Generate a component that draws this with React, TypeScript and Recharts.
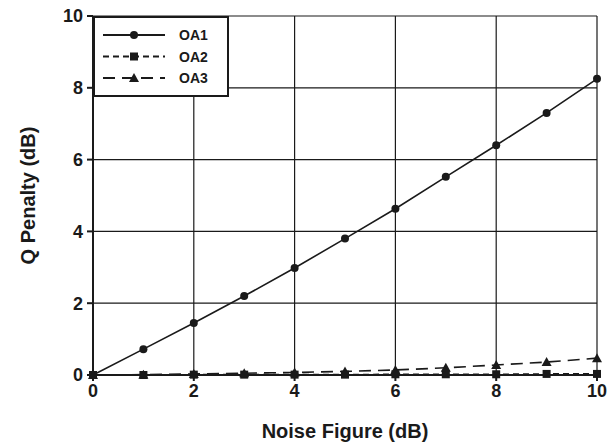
import React from 'react';
import { LineChart, Line, XAxis, YAxis, CartesianGrid, Legend, Label } from 'recharts';

const noiseFigure = [0, 1, 2, 3, 4, 5, 6, 7, 8, 9, 10];
const oa1 = [0, 0.72, 1.45, 2.2, 2.98, 3.8, 4.63, 5.52, 6.4, 7.3, 8.25];
const oa2 = [0, 0, 0.01, 0.01, 0.01, 0.01, 0.02, 0.02, 0.02, 0.03, 0.03];
const oa3 = [0, 0.01, 0.03, 0.05, 0.07, 0.1, 0.14, 0.2, 0.28, 0.36, 0.47];
const ticks = [0, 2, 4, 6, 8, 10];

const data = noiseFigure.map((nf, i) => ({ nf, oa1: oa1[i], oa2: oa2[i], oa3: oa3[i] }));

const INK = '#1a1a1a';
const FONT = '"Liberation Sans", Arial, sans-serif';

const Circle = (props: any) => {
  const { cx, cy, key } = props;
  return <circle key={key} cx={cx} cy={cy} r={4} fill={INK} />;
};
const Square = (props: any) => {
  const { cx, cy, key } = props;
  return <rect key={key} x={cx - 4} y={cy - 4} width={8} height={8} fill={INK} />;
};
const Triangle = (props: any) => {
  const { cx, cy, key } = props;
  return <polygon key={key} points={`${cx},${cy - 5} ${cx + 5},${cy + 4} ${cx - 5},${cy + 4}`} fill={INK} />;
};

const legendItems = [
  { name: 'OA1', dash: undefined, marker: 'circle' },
  { name: 'OA2', dash: '6 4', marker: 'square' },
  { name: 'OA3', dash: '12 7', marker: 'triangle' },
];

const LegendBox = () => (
  <svg width={136} height={81} style={{ display: 'block' }}>
    <rect x={1} y={1} width={134} height={79} fill="#fff" stroke={INK} strokeWidth={2} />
    {legendItems.map((it, i) => {
      const y = 19 + i * 21.5;
      const mx = 41;
      return (
        <g key={it.name}>
          <line x1={10} x2={72} y1={y} y2={y} stroke={INK} strokeWidth={1.8} strokeDasharray={it.dash} />
          {it.marker === 'circle' && <circle cx={mx} cy={y} r={4} fill={INK} />}
          {it.marker === 'square' && <rect x={mx - 4} y={y - 4} width={8} height={8} fill={INK} />}
          {it.marker === 'triangle' && (
            <polygon points={`${mx},${y - 5} ${mx + 5},${y + 4} ${mx - 5},${y + 4}`} fill={INK} />
          )}
          <text x={86} y={y + 5} fontFamily={FONT} fontWeight={700} fontSize={14} fill={INK}>
            {it.name}
          </text>
        </g>
      );
    })}
  </svg>
);

export default function App() {
  return (
    <div style={{ position: 'absolute', left: 0, top: 0, width: 614, height: 448, background: '#fff' }}>
      <LineChart width={614} height={448} data={data} margin={{ top: 16, right: 17, left: 0, bottom: 0 }}>
        <CartesianGrid stroke={INK} strokeWidth={1.2} horizontalValues={ticks} verticalValues={ticks} />
        <XAxis
          dataKey="nf"
          type="number"
          domain={[0, 10]}
          ticks={ticks}
          height={73}
          tickSize={6}
          tickMargin={3}
          stroke={INK}
          strokeWidth={2}
          tick={{ fill: INK, fontFamily: FONT, fontWeight: 700, fontSize: 18 }}
        >
          <Label
            value="Noise Figure (dB)"
            position="insideBottom"
            offset={10}
            style={{ fill: INK, fontFamily: FONT, fontWeight: 700, fontSize: 20 }}
          />
        </XAxis>
        <YAxis
          type="number"
          domain={[0, 10]}
          ticks={ticks}
          width={93}
          tickSize={6}
          tickMargin={4}
          stroke={INK}
          strokeWidth={2}
          tick={{ fill: INK, fontFamily: FONT, fontWeight: 700, fontSize: 18 }}
        >
          <Label
            value="Q Penalty (dB)"
            angle={-90}
            position="insideLeft"
            offset={28}
            style={{ fill: INK, fontFamily: FONT, fontWeight: 700, fontSize: 20, textAnchor: 'middle' }}
          />
        </YAxis>
        <Legend
          layout="horizontal"
          verticalAlign="middle"
          align="center"
          content={() => <LegendBox />}
          wrapperStyle={{ position: 'absolute', left: 93, top: 16, width: 136, height: 81 }}
        />
        <Line dataKey="oa1" name="OA1" stroke={INK} strokeWidth={1.6} dot={Circle} isAnimationActive={false} />
        <Line dataKey="oa2" name="OA2" stroke={INK} strokeWidth={1.6} strokeDasharray="6 4" dot={Square} isAnimationActive={false} />
        <Line dataKey="oa3" name="OA3" stroke={INK} strokeWidth={1.6} strokeDasharray="12 7" dot={Triangle} isAnimationActive={false} />
      </LineChart>
    </div>
  );
}
